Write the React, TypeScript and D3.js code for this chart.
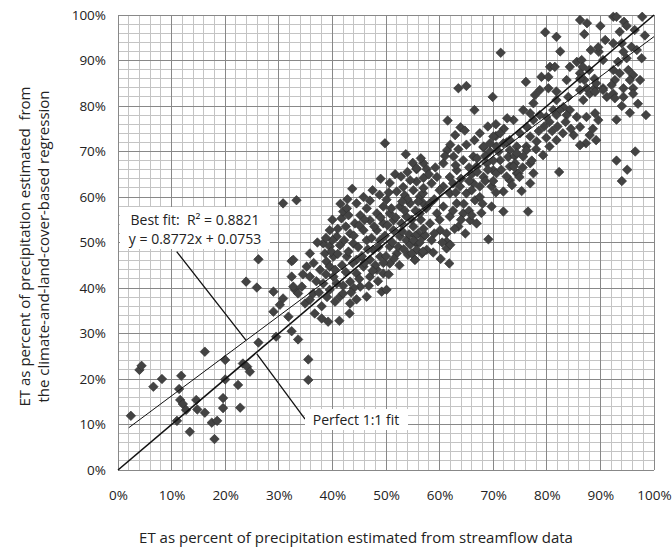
import * as d3 from "d3"
import { useEffect, useRef } from "react"

const WIDTH = 672
const HEIGHT = 547
const plot = { left: 118, right: 654, top: 15, bottom: 470 }
const FONT = "'Myriad Pro', 'Open Sans', sans-serif"

const majorTicks = [0, 10, 20, 30, 40, 50, 60, 70, 80, 90, 100]
const minorTicks = [
  0, 2, 4, 6, 8, 10, 12, 14, 16, 18, 20, 22, 24, 26, 28, 30, 32, 34, 36, 38, 40, 42, 44, 46, 48, 50,
  52, 54, 56, 58, 60, 62, 64, 66, 68, 70, 72, 74, 76, 78, 80, 82, 84, 86, 88, 90, 92, 94, 96, 98, 100,
]

// regression line (values in percent)
const FIT_SLOPE = 0.8772
const FIT_INTERCEPT = 7.53
const fitRange = [2, 100]
const fitLabel = ["Best fit:  R\u00b2 = 0.8821", "y = 0.8772x + 0.0753"]
const perfectLabel = "Perfect 1:1 fit"

// [streamflow ET %, regression ET %]
const lowPoints: [number, number][] = [
  [2.4, 11.9], [4.0, 22.0], [4.4, 22.9], [6.6, 18.3], [8.2, 20.0], [11.0, 10.8], [11.4, 17.8],
  [11.6, 15.4], [11.8, 20.7], [12.1, 14.5], [12.7, 13.2], [13.4, 8.4], [14.6, 15.4], [14.8, 13.3],
  [16.2, 12.6], [16.2, 26.0], [17.5, 10.4], [18.0, 6.8], [18.5, 10.8], [19.6, 13.6], [19.6, 15.8],
  [20.0, 19.9], [20.0, 24.2], [22.4, 18.7], [22.8, 13.7], [23.3, 23.4], [23.9, 41.4], [24.1, 22.7],
  [24.6, 21.6], [25.9, 40.1], [26.2, 28.0], [26.2, 46.3], [29.0, 34.8], [29.0, 39.2], [29.5, 29.3],
  [30.2, 36.3], [30.8, 37.7], [30.8, 58.6], [31.8, 33.7], [32.4, 30.5], [32.4, 42.5], [32.4, 45.9],
  [33.0, 39.6], [33.3, 59.3],
]

const midPoints: [number, number][] = [
  [32.7, 40.3], [32.7, 46.2], [33.6, 28.7], [33.6, 38.8], [34.3, 40.3], [34.9, 36.6], [35.2, 44.7],
  [35.5, 19.8], [35.5, 24.3], [35.8, 37.4], [35.8, 42.5], [35.8, 47.6], [36.4, 38.8], [36.7, 34.4],
  [37.7, 44.0], [38.0, 33.3], [38.3, 41.0], [38.3, 49.8], [38.6, 47.6], [38.9, 45.8], [39.2, 32.6],
  [39.5, 39.6], [39.5, 44.7], [39.5, 49.1], [39.5, 52.7], [40.2, 42.5], [40.2, 46.9], [40.8, 41.0],
  [40.8, 51.3], [41.3, 32.8], [41.4, 38.1], [41.4, 49.4], [41.7, 55.3], [42.0, 38.8], [42.0, 56.8],
  [42.7, 46.9], [42.7, 57.5], [43.0, 56.0], [43.2, 34.4], [43.3, 36.6], [43.3, 41.4], [43.3, 52.0],
  [43.7, 61.8], [43.9, 49.8], [44.2, 54.2], [44.5, 43.2], [44.5, 46.2], [44.5, 58.6], [45.2, 40.3],
  [45.2, 56.0], [45.8, 44.7], [45.8, 52.7], [46.4, 38.1], [46.4, 50.5], [46.4, 57.5], [47.0, 42.5],
  [47.0, 46.2], [47.0, 54.9], [47.0, 59.2], [47.6, 48.4], [48.3, 44.0], [48.3, 52.7], [48.3, 56.4],
  [48.9, 46.9], [48.9, 50.5], [49.2, 39.2], [49.5, 43.2], [49.5, 54.2], [49.5, 57.9], [49.8, 71.8],
  [50.1, 39.6], [50.1, 59.4], [50.7, 45.4], [50.7, 49.1], [50.7, 56.4], [50.7, 63.1], [51.4, 52.7],
  [51.4, 54.9], [51.7, 65.0], [52.0, 47.6], [52.0, 61.2], [52.6, 51.3], [52.6, 57.9], [52.9, 54.2],
  [53.2, 62.2], [53.5, 60.4], [53.7, 69.4], [53.8, 50.5], [53.8, 55.7], [54.1, 47.3], [54.5, 58.6],
  [55.1, 53.5], [55.1, 61.5], [55.4, 46.2], [55.7, 49.8], [55.7, 63.4], [55.7, 66.1], [56.3, 60.1],
  [56.7, 47.6], [57.0, 51.3], [57.0, 64.2], [57.0, 67.4], [57.6, 48.4], [57.6, 57.9],
  [37.0, 41.5], [37.5, 39.0], [38.8, 43.0], [39.8, 48.0], [40.5, 44.0], [41.0, 47.5], [41.8, 45.0],
  [42.2, 50.5], [42.5, 43.5], [43.0, 48.0], [43.8, 45.5], [44.0, 51.5], [44.8, 49.0], [45.0, 53.8],
  [45.5, 47.0], [46.0, 55.0], [46.6, 48.5], [47.3, 51.0], [47.8, 53.5], [48.0, 45.0], [48.6, 49.0],
  [49.0, 55.5], [49.8, 51.5], [50.3, 53.8], [50.0, 47.0], [51.0, 57.5], [51.2, 50.0], [51.8, 55.5],
  [52.3, 49.0], [53.0, 52.5], [53.5, 57.0], [54.0, 59.5], [54.3, 51.8], [54.8, 55.0], [55.5, 57.0],
  [56.0, 52.0], [56.5, 55.0], [56.8, 58.8], [42.5, 53.5], [41.0, 53.0], [40.0, 50.5], [44.0, 40.0],
  [45.0, 42.0], [46.0, 45.5],
  [38.0, 36.0], [39.0, 38.0], [40.5, 37.0], [42.0, 40.5], [43.5, 39.0], [44.5, 37.5], [46.8, 40.5],
  [47.5, 43.8], [48.5, 41.5], [49.5, 45.5], [50.5, 43.0], [51.5, 46.5], [52.5, 45.0], [53.3, 48.5],
  [54.5, 49.5], [55.5, 51.5], [56.3, 50.0], [42.8, 59.5], [45.8, 60.0], [47.5, 61.5], [48.8, 60.5],
  [50.5, 61.0], [49.0, 64.0], [52.8, 64.5], [54.0, 65.5], [55.0, 67.5], [56.5, 68.5], [53.0, 59.0],
  [41.5, 58.5], [40.0, 55.0], [38.8, 51.0], [37.2, 50.0], [36.5, 45.5], [34.5, 43.0],
]

const upperPoints: [number, number][] = [
  [63.5, 83.9], [65.0, 84.4], [66.5, 79.1], [61.5, 76.8], [63.9, 75.3], [64.7, 74.6], [62.9, 73.6],
  [70.5, 73.4], [61.4, 70.3], [55.7, 66.3], [57.6, 66.1], [54.5, 63.7], [68.2, 70.9], [69.4, 70.0],
  [71.9, 71.8], [73.1, 70.3], [71.3, 68.1], [73.1, 66.7], [74.4, 65.2], [73.1, 63.7], [71.9, 61.2],
  [69.7, 62.3], [69.7, 57.9], [71.9, 56.8], [69.1, 50.7], [66.6, 59.3], [65.7, 54.9], [66.9, 54.2],
  [64.4, 56.4], [63.2, 58.6], [61.9, 60.8], [60.7, 62.3], [59.5, 64.4], [63.2, 65.9], [64.4, 68.1],
  [66.3, 68.9], [66.9, 66.7], [68.8, 67.4], [70.0, 65.9], [68.2, 64.4], [66.3, 63.0], [65.0, 60.8],
  [63.8, 62.3], [61.9, 64.4], [60.7, 67.4], [62.6, 68.9], [56.9, 60.8], [58.2, 58.6], [56.3, 56.4],
  [59.5, 56.4], [60.7, 57.9], [61.9, 55.7], [58.2, 54.2], [60.1, 52.7], [61.3, 52.0], [57.3, 51.6],
  [61.3, 50.2], [55.1, 50.5], [55.7, 48.4], [56.9, 48.0], [58.8, 47.8], [60.2, 46.4], [61.8, 45.4],
  [55.4, 46.2], [61.3, 48.7], [54.8, 47.6], [67.5, 62.3], [70.6, 65.2],
  [57.0, 62.0], [58.5, 63.0], [60.0, 61.5], [62.5, 63.0], [64.0, 64.0], [65.5, 66.5], [67.0, 68.5],
  [68.5, 69.0], [70.0, 68.0], [71.0, 70.0], [72.5, 72.0], [66.0, 65.0], [63.0, 61.0], [59.0, 59.5],
  [57.5, 57.5], [56.0, 59.0], [60.0, 55.0], [62.5, 57.0], [64.5, 58.5], [66.0, 61.5], [68.5, 63.5],
  [70.0, 63.5], [67.5, 60.0], [65.5, 57.0], [63.5, 53.5], [62.0, 49.5], [58.5, 50.5], [57.0, 53.0],
  [58.0, 65.0], [59.2, 66.5], [61.0, 69.0], [62.0, 71.5], [63.5, 70.5], [65.0, 71.5], [66.5, 72.5],
  [67.5, 74.0], [69.0, 75.5], [70.5, 76.0], [72.0, 75.0], [63.0, 67.0], [65.5, 63.5], [67.0, 65.5],
  [69.0, 66.0], [71.5, 66.0], [72.5, 64.5], [70.5, 61.0], [68.0, 58.5], [66.0, 56.0], [64.0, 55.0],
  [62.8, 53.0], [59.0, 52.0], [60.5, 50.0], [64.8, 52.0], [67.8, 56.5], [72.8, 68.8], [74.0, 69.0],
]

const highPoints: [number, number][] = [
  [71.4, 91.7], [69.9, 82.0], [79.7, 96.2], [81.8, 95.2], [82.5, 92.0], [76.1, 85.3], [86.2, 98.9],
  [87.5, 98.2], [90.0, 97.6], [92.4, 99.6], [93.0, 99.6], [97.8, 99.6], [94.4, 98.5], [94.9, 97.6],
  [96.4, 96.7], [98.3, 95.5], [93.6, 96.3], [90.9, 94.5], [88.2, 92.3], [89.7, 91.9], [92.4, 93.8],
  [94.0, 93.8], [94.3, 91.9], [95.8, 93.0], [96.8, 92.3], [97.7, 90.5], [94.9, 90.5], [93.3, 89.7],
  [92.4, 87.9], [93.6, 87.2], [95.2, 87.9], [96.1, 86.8], [97.4, 85.7], [95.5, 85.7], [94.3, 83.9],
  [96.1, 83.9], [92.7, 85.7], [92.1, 84.6], [85.6, 89.7], [86.5, 90.1], [84.3, 88.6], [80.6, 88.6],
  [81.5, 88.6], [79.0, 86.4], [80.3, 86.4], [86.7, 88.6], [87.9, 87.9], [86.2, 87.2], [87.0, 85.7],
  [88.9, 86.0], [83.7, 85.7], [86.2, 86.0], [87.4, 83.9], [88.9, 83.9], [90.5, 83.9], [91.2, 82.0],
  [92.4, 82.7], [94.3, 82.0], [92.7, 81.7], [96.1, 82.7], [89.2, 85.0], [84.0, 82.0], [86.2, 83.5],
  [86.8, 81.3], [88.0, 82.7], [81.8, 81.3], [83.1, 79.8], [84.3, 79.1], [81.2, 79.1], [79.9, 77.6],
  [78.7, 78.0], [76.9, 78.4], [75.6, 79.1], [77.5, 80.6], [78.7, 83.5], [77.8, 82.4], [80.3, 83.9],
  [81.8, 83.2], [82.4, 79.1], [83.7, 78.0], [81.8, 78.0], [85.6, 77.6], [87.4, 77.6], [89.0, 78.4],
  [89.6, 76.9], [86.2, 75.4], [85.0, 73.6], [88.0, 73.6], [88.6, 75.0], [89.2, 72.5], [87.3, 71.8],
  [86.2, 71.4], [77.5, 76.9], [76.3, 75.4], [73.8, 76.9], [72.6, 77.3], [75.0, 74.0], [76.9, 73.3],
  [78.1, 72.2], [79.9, 73.0], [81.8, 72.5], [80.5, 71.1], [71.3, 74.0], [70.0, 73.3], [73.1, 72.5],
  [70.6, 71.1], [69.4, 71.8], [68.2, 71.1], [74.4, 71.1], [76.2, 71.1], [87.0, 95.8], [89.6, 92.9],
  [90.5, 90.1], [89.0, 83.1], [90.5, 83.5],
  [76.2, 70.3], [74.4, 69.6], [79.3, 69.2], [76.9, 67.4], [77.5, 65.2], [74.7, 65.2], [76.9, 63.0],
  [75.3, 61.3], [82.3, 65.5], [76.5, 56.8], [74.1, 67.4], [75.6, 68.9], [77.2, 68.0], [73.8, 66.7],
  [74.9, 64.4], [73.5, 62.6], [94.0, 80.0], [95.5, 78.5], [97.0, 80.5], [93.0, 77.0], [98.5, 78.0],
  [93.0, 68.0], [95.0, 66.0], [96.5, 70.0], [94.0, 63.5],
  [75.5, 66.5], [78.0, 70.5], [78.5, 74.5], [79.5, 75.5], [80.5, 76.5], [82.0, 75.5], [83.5, 76.5],
  [84.5, 75.0], [83.0, 74.0], [81.0, 74.5],
]

export default function App() {
  const svgRef = useRef<SVGSVGElement | null>(null)

  useEffect(() => {
    if (!svgRef.current) return
    const svg = d3.select(svgRef.current)
    svg.selectAll("*").remove()

    const x = d3.scaleLinear().domain([0, 100]).range([plot.left, plot.right])
    const y = d3.scaleLinear().domain([0, 100]).range([plot.bottom, plot.top])

    svg.append("rect").attr("width", WIDTH).attr("height", HEIGHT).attr("fill", "#fff")

    // Grid: light every 2%, darker every 10%
    const grid = svg.append("g").attr("shape-rendering", "crispEdges")
    const minor = minorTicks.filter((t) => t % 10 !== 0)
    const drawGrid = (ticks: number[], color: string) => {
      grid
        .append("g")
        .selectAll("line")
        .data(ticks)
        .enter()
        .append("line")
        .attr("x1", (d) => x(d))
        .attr("x2", (d) => x(d))
        .attr("y1", plot.top)
        .attr("y2", plot.bottom)
        .attr("stroke", color)
      grid
        .append("g")
        .selectAll("line")
        .data(ticks)
        .enter()
        .append("line")
        .attr("y1", (d) => y(d))
        .attr("y2", (d) => y(d))
        .attr("x1", plot.left)
        .attr("x2", plot.right)
        .attr("stroke", color)
    }
    drawGrid(minor, "#c4c4c4")
    drawGrid(majorTicks, "#888")

    // Axes labels
    const fmt = (d: d3.NumberValue) => `${d}%`
    const xAxis = svg
      .append("g")
      .attr("transform", `translate(0,${plot.bottom + 12})`)
      .call(d3.axisBottom(x).tickValues(majorTicks).tickFormat(fmt).tickSize(0).tickPadding(8))
    xAxis.select(".domain").remove()
    xAxis.selectAll("text").style("font-family", FONT).style("font-size", "13.5px").attr("fill", "#222")

    const yAxis = svg
      .append("g")
      .attr("transform", `translate(${plot.left - 12},0)`)
      .call(d3.axisLeft(y).tickValues(majorTicks).tickFormat(fmt).tickSize(0).tickPadding(0))
    yAxis.select(".domain").remove()
    yAxis.selectAll("text").style("font-family", FONT).style("font-size", "13.5px").attr("fill", "#222")

    // Points
    const diamond = d3.symbol().type(d3.symbolDiamond2).size(58)
    const allPoints = [...lowPoints, ...midPoints, ...upperPoints, ...highPoints]
    svg
      .append("g")
      .selectAll("path")
      .data(allPoints)
      .enter()
      .append("path")
      .attr("d", diamond)
      .attr("transform", (d) => `translate(${x(d[0])},${y(d[1])})`)
      .attr("fill", "#434343")
      .attr("stroke", "#2e2e2e")
      .attr("stroke-width", 0.6)

    // Fit lines
    const line = d3
      .line<[number, number]>()
      .x((d) => x(d[0]))
      .y((d) => y(d[1]))
    svg
      .append("path")
      .attr(
        "d",
        line(fitRange.map((v) => [v, FIT_SLOPE * v + FIT_INTERCEPT]) as [number, number][]),
      )
      .attr("stroke", "#111")
      .attr("stroke-width", 1)
      .attr("fill", "none")
    svg
      .append("path")
      .attr("d", line([[0, 0], [100, 100]]))
      .attr("stroke", "#111")
      .attr("stroke-width", 1.6)
      .attr("fill", "none")

    // Leader lines
    const leaders: [number, number][][] = [
      [[10.95, 48.0], [23.9, 28.5]],
      [[25.9, 25.5], [34.9, 11.2]],
    ]
    leaders.forEach((seg) => {
      svg.append("path").attr("d", line(seg)).attr("stroke", "#111").attr("stroke-width", 1.3).attr("fill", "none")
    })

    // Label boxes
    svg.append("rect").attr("x", 120).attr("y", 207).attr("width", 150).attr("height", 42).attr("fill", "#fff")
    svg.append("rect").attr("x", 305).attr("y", 409).attr("width", 103).attr("height", 21).attr("fill", "#fff")
    fitLabel.forEach((t, i) => {
      svg
        .append("text")
        .attr("x", 195)
        .attr("y", 225 + i * 19)
        .attr("text-anchor", "middle")
        .style("font-family", FONT)
        .style("font-size", "14px")
        .style("white-space", "pre")
        .attr("fill", "#222")
        .text(t)
    })
    svg
      .append("text")
      .attr("x", 356)
      .attr("y", 425)
      .attr("text-anchor", "middle")
      .style("font-family", FONT)
      .style("font-size", "14px")
      .attr("fill", "#222")
      .text(perfectLabel)

    // Axis titles
    svg
      .append("text")
      .attr("x", (plot.left + plot.right) / 2 - 30)
      .attr("y", 543)
      .attr("text-anchor", "middle")
      .style("font-family", FONT)
      .style("font-size", "15px")
      .attr("fill", "#222")
      .text("ET as percent of precipitation estimated from streamflow data")
    const yTitle = ["ET as percent of precipitation estimated  from", "the climate-and-land-cover-based regression"]
    yTitle.forEach((t, i) => {
      svg
        .append("text")
        .attr("transform", `translate(${30 + i * 19},${(plot.top + plot.bottom) / 2 + 4}) rotate(-90)`)
        .attr("text-anchor", "middle")
        .style("font-family", FONT)
        .style("font-size", "15px")
        .style("white-space", "pre")
        .attr("fill", "#222")
        .text(t)
    })
  }, [])

  return (
    <svg
      ref={svgRef}
      width={WIDTH}
      height={HEIGHT}
      style={{ position: "absolute", left: 0, top: 0, display: "block" }}
      xmlns="http://www.w3.org/2000/svg"
    />
  )
}
